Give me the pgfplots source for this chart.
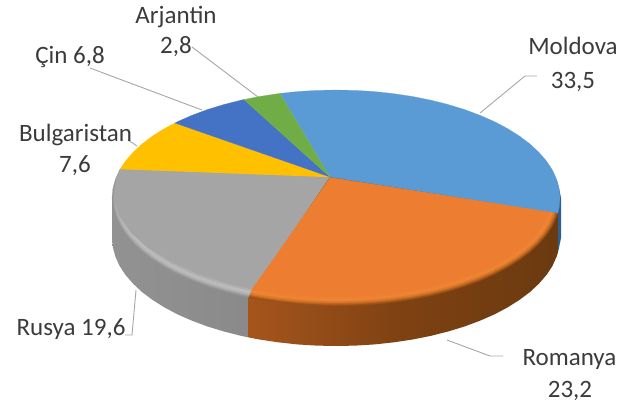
\documentclass[border=0pt]{standalone}
\usepackage{pgfplots}
\usepackage{pgfplotstable}
\usepackage{fontspec}
\setmainfont{Carlito}
\pgfplotsset{compat=1.18}
\definecolor{cblue}{HTML}{5B9BD5}
\definecolor{corange}{HTML}{ED7D31}
\definecolor{cgray}{HTML}{A5A5A5}
\definecolor{cyellow}{HTML}{FFC000}
\definecolor{cdblue}{HTML}{4472C4}
\definecolor{cgreen}{HTML}{70AD47}
\definecolor{txt}{HTML}{3B3B3B}
\definecolor{lead}{HTML}{A6A6A6}
\definecolor{brownL}{HTML}{A5551C}
\definecolor{brownM}{HTML}{7E4112}
\definecolor{brownR}{HTML}{6B3A10}
\definecolor{orangeA}{HTML}{9A5018}
\definecolor{orangeB}{HTML}{BA6420}
\definecolor{orangeC}{HTML}{D87828}
\definecolor{orangeD}{HTML}{EE8535}
\definecolor{orangeE}{HTML}{EE8233}
\definecolor{grayL}{HTML}{929292}
\definecolor{grayR}{HTML}{858585}
\definecolor{grayA}{HTML}{949494}
\definecolor{grayB}{HTML}{A5A5A5}
\definecolor{grayC}{HTML}{B5B5B5}
\definecolor{grayD}{HTML}{BDBDBD}
\definecolor{grayE}{HTML}{B0B0B0}
\definecolor{blueR}{HTML}{2F5F8F}
% slices: Moldova 33.5, Romanya 23.2, Rusya 19.6, Bulgaristan 7.6, Cin 6.8, Arjantin 2.8
\pgfplotstableread{
x y
330 177
280.0 93.4
297.1 91.6
316.5 90.4
336.0 90.0
355.5 90.4
374.9 91.6
394.0 93.7
412.6 96.5
430.7 100.1
448.0 104.5
464.5 109.5
480.0 115.3
494.4 121.6
507.6 128.6
519.5 136.1
530.0 144.0
539.0 152.4
546.5 161.1
552.4 170.0
556.6 179.3
559.1 188.6
560.0 198.0
559.1 207.4
557.8 213.0
}\moldovatop
\pgfplotstableread{
x y
330 177
557.8 213.0
556.6 216.7
552.4 226.0
546.5 234.9
539.0 243.6
530.0 252.0
519.5 259.9
507.6 267.4
494.4 274.4
480.0 280.7
464.5 286.5
448.0 291.5
430.7 295.9
412.6 299.5
394.0 302.3
374.9 304.4
355.5 305.6
336.0 306.0
316.5 305.6
297.1 304.4
278.0 302.3
259.4 299.5
248.5 297.4
}\romanyatop
\pgfplotstableread{
x y
330 177
248.5 297.4
241.3 295.9
224.0 291.5
207.5 286.5
192.0 280.7
177.6 274.4
164.4 267.4
152.5 259.9
142.0 252.0
133.0 243.6
125.5 234.9
119.6 226.0
115.4 216.7
112.9 207.4
112.0 198.0
112.9 188.6
115.4 179.3
119.6 170.0
120.2 169.0
}\rusyatop
\pgfplotstableread{
x y
330 177
252.0 289.1
228.5 283.7
197.8 273.8
171.3 261.6
149.0 248.0
131.2 232.8
119.3 216.0
114.0 198.0
116.0 179.5
120.2 169.0
}\rusyaface
\pgfplotstableread{
x y
330 177
120.2 169.0
125.5 161.1
133.0 152.4
142.0 144.0
152.5 136.1
164.4 128.6
174.9 123.0
}\bulgaristantop
\pgfplotstableread{
x y
330 177
174.9 123.0
177.6 121.6
192.0 115.3
207.5 109.5
224.0 104.5
241.3 100.1
244.0 99.6
}\cintop
\pgfplotstableread{
x y
330 177
244.0 99.6
259.4 96.5
278.0 93.7
280.0 93.4
}\arjantintop
\pgfplotstableread{
x y
330 177
556.6 179.3
559.1 188.6
561.0 198.0
561.0 238.0
559.1 247.4
557.8 253.0
557.8 213.0
}\moldovarim
\pgfplotstableread{
x y
330 177
557.8 213.0
557.8 253.0
556.6 256.7
552.4 266.0
546.5 274.9
539.0 283.6
530.0 292.0
519.5 299.9
507.6 307.4
494.4 314.4
480.0 320.7
464.5 326.5
448.0 331.5
430.7 335.9
412.6 339.5
394.0 342.3
374.9 344.4
355.5 345.6
336.0 346.0
316.5 345.6
297.1 344.4
278.0 342.3
259.4 339.5
248.5 337.4
248.5 297.4
}\romanyarim
\pgfplotstableread{
x y
330 177
248.5 297.4
248.5 337.4
241.3 335.9
224.0 331.5
207.5 326.5
192.0 320.7
177.6 314.4
164.4 307.4
152.5 299.9
142.0 292.0
133.0 283.6
125.5 274.9
119.6 266.0
115.4 256.7
112.9 247.4
112.0 238.0
112.0 198.0
}\rusyarim
\newcommand{\layer}[3]{%
  \addplot[fill=#3,draw=#3,line width=0.2pt] table[
    x expr={336+(\thisrow{x}-336)*(1-#2/224)},
    y expr={198+(\thisrow{y}-198)*(1-#2/108)}] {#1};}
\newcommand{\lab}[3]{\node[anchor=base,inner sep=0pt,text=txt,font=\fontsize{25}{30}\selectfont] at (axis cs:#1,#2) {#3};}
\begin{document}
\begin{tikzpicture}
\path (0,0) rectangle (636pt,407pt);
\begin{axis}[
  at={(0,0)},anchor=south west,
  width=636pt,height=407pt,scale only axis,
  xmin=0,xmax=636,ymin=0,ymax=407,y dir=reverse,
  hide axis,clip=true]
% rim
\addplot[fill=blueR,draw=none] table {\moldovarim};
\addplot[left color=grayL,right color=grayR,draw=none] table {\rusyarim};
\addplot[left color=brownL,right color=brownR,middle color=brownM,draw=none] table {\romanyarim};
% gray bevel and top
\layer{\rusyatop}{0}{grayA}
\layer{\rusyatop}{1.5}{grayB}
\layer{\rusyatop}{3}{grayC}
\layer{\rusyatop}{5}{grayD}
\layer{\rusyatop}{7}{grayE}
\layer{\rusyaface}{0}{cgray}
% orange bevel and top
\layer{\romanyatop}{0}{orangeA}
\layer{\romanyatop}{1.5}{orangeB}
\layer{\romanyatop}{3}{orangeC}
\layer{\romanyatop}{5}{orangeD}
\layer{\romanyatop}{7}{orangeE}
\layer{\romanyatop}{9}{corange}
% other slices
\layer{\moldovatop}{0}{cblue}
\layer{\bulgaristantop}{0}{cyellow}
\layer{\cintop}{0}{cdblue}
\layer{\arjantintop}{0}{cgreen}
% leader lines
\addplot[lead,line width=0.9pt] coordinates {(192,47) (258,97)};
\addplot[lead,line width=0.9pt] coordinates {(90,68) (202,110)};
\addplot[lead,line width=0.9pt] coordinates {(128,140) (137,146)};
\addplot[lead,line width=0.9pt] coordinates {(537,76) (525,76) (480,113)};
\addplot[lead,line width=0.9pt] coordinates {(503,356) (490,356) (447,340)};
\addplot[lead,line width=0.9pt] coordinates {(125,335) (132,335) (136,290)};
% labels
\lab{176}{23}{Arjantin}
\lab{176}{53}{2,8}
\lab{70}{63}{Çin 6,8}
\lab{75.5}{141}{Bulgaristan}
\lab{75}{172}{7,6}
\lab{573}{54}{Moldova}
\lab{573}{88}{33,5}
\lab{569.5}{365}{Romanya}
\lab{570}{397}{23,2}
\lab{71}{335}{Rusya 19,6}
\end{axis}
\end{tikzpicture}
\end{document}
